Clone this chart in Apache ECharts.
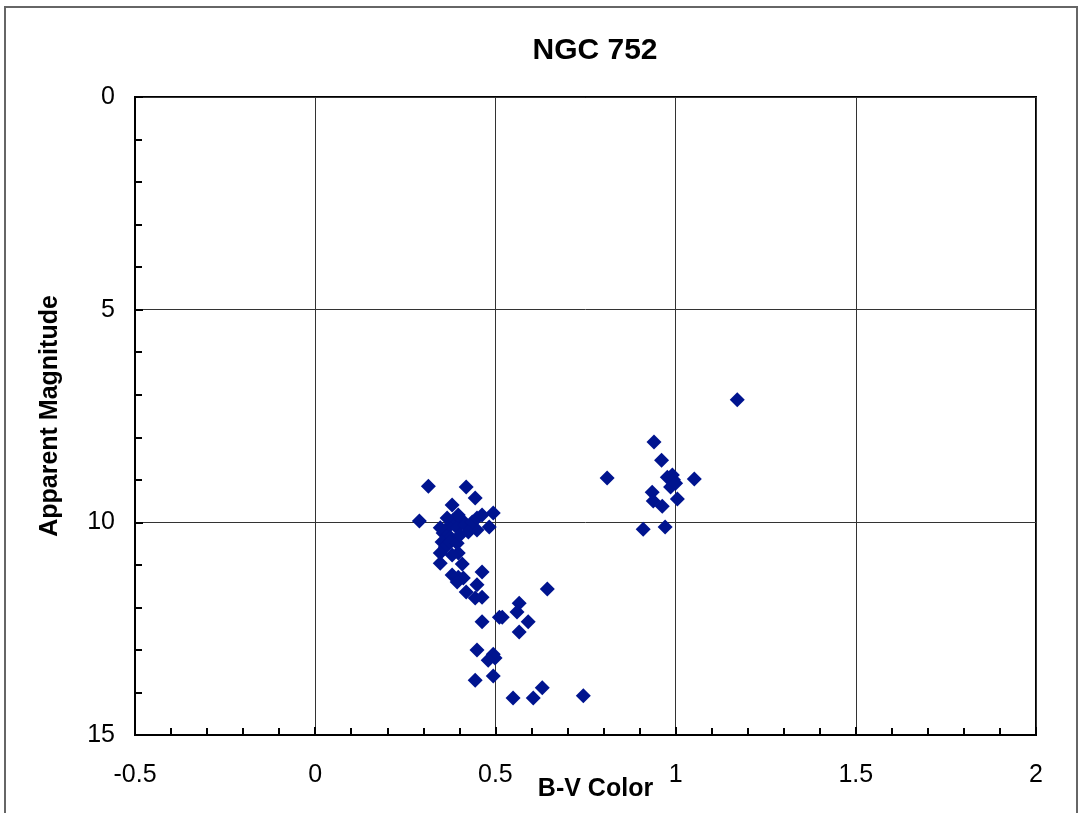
<!DOCTYPE html>
<html>
<head>
    <meta charset="utf-8">
    <title>NGC 752</title>
    <script src="https://cdn.jsdelivr.net/npm/echarts@6/dist/echarts.min.js"></script>
    <style>
        html, body { margin: 0; padding: 0; background: #fff; }
    </style>
</head>
<body>
    <div id="main" style="width: 1081px;height:813px;"></div>
    <script type="text/javascript">
        // B-V colour index of each star
        var bvColor = [
            1.171, 0.940, 0.961, 0.810, 1.052, 0.977, 0.991, 0.994, 0.986, 1.000,
            0.935, 0.938, 0.963, 1.005, 0.971, 0.910,
            0.314, 0.419, 0.444, 0.380, 0.289, 0.494, 0.483, 0.449,
            0.383, 0.408, 0.369, 0.394, 0.416, 0.436, 0.449, 0.463, 0.425, 0.355,
            0.375, 0.352, 0.361, 0.347, 0.375, 0.394, 0.397, 0.380, 0.366, 0.397,
            0.347, 0.402,
            0.347, 0.408, 0.463, 0.380, 0.397, 0.411, 0.394, 0.449, 0.419, 0.444,
            0.463, 0.644, 0.566, 0.560, 0.591, 0.511, 0.519, 0.463, 0.566, 0.449,
            0.494, 0.499, 0.480, 0.444, 0.494, 0.630, 0.549, 0.605, 0.744
        ];
        // apparent V magnitude of each star
        var vMag = [
            7.12, 8.11, 8.54, 8.96, 8.98, 8.94, 8.89, 9.00, 9.17, 9.08,
            9.29, 9.50, 9.62, 9.45, 10.11, 10.16,
            9.15, 9.17, 9.43, 9.59, 9.97, 9.78, 10.11, 10.18,
            9.95, 9.95, 10.11, 10.13, 10.06, 9.99, 9.90, 9.83, 10.23, 10.25,
            10.35, 10.46, 10.58, 10.72, 10.46, 10.49, 10.72, 10.77, 9.90, 9.83,
            10.13, 10.30,
            10.96, 10.98, 11.17, 11.24, 11.29, 11.31, 11.40, 11.47, 11.64, 11.78,
            11.76, 11.57, 11.90, 12.11, 12.34, 12.23, 12.23, 12.34, 12.58, 13.00,
            13.10, 13.19, 13.24, 13.71, 13.61, 13.89, 14.13, 14.13, 14.08
        ];

        var stars = [];
        for (var i = 0; i < bvColor.length; i++) {
            stars.push([bvColor[i], vMag[i]]);
        }

        var myChart = echarts.init(document.getElementById('main'));

        var font = 'Arial, "Liberation Sans", sans-serif';

        var option = {
            animation: false,
            backgroundColor: '#fff',
            title: {
                text: 'NGC 752',
                left: 590,
                top: 31,
                textAlign: 'center',
                textStyle: { fontFamily: font, fontSize: 30, fontWeight: 'bold', color: '#000' }
            },
            graphic: [{
                type: 'rect',
                shape: { x: 5, y: 7, width: 1072, height: 840 },
                style: { fill: 'none', stroke: '#666', lineWidth: 2 },
                silent: true
            }],
            grid: {
                left: 135,
                right: 45,
                top: 97,
                bottom: 78,
                outerBoundsMode: 'none',
                containLabel: false,
                show: true,
                borderColor: '#000',
                borderWidth: 2
            },
            xAxis: {
                type: 'value',
                min: -0.5,
                max: 2,
                interval: 0.5,
                name: 'B-V Color',
                nameLocation: 'middle',
                nameGap: 42,
                nameMoveOverlap: false,
                nameTextStyle: { fontFamily: font, fontSize: 25, fontWeight: 'bold', color: '#000', padding: [0, 0, 0, 20] },
                axisLine: { show: true, onZero: false, lineStyle: { color: '#000', width: 2 } },
                axisTick: { show: true, inside: true, length: 8, lineStyle: { color: '#000', width: 2 } },
                minorTick: { show: true, splitNumber: 5, length: 7, lineStyle: { color: '#000', width: 2 } },
                axisLabel: { fontFamily: font, fontSize: 25, color: '#000', margin: 28 },
                splitLine: { show: true, lineStyle: { color: '#333', width: 1 } }
            },
            yAxis: {
                type: 'value',
                inverse: true,
                min: 0,
                max: 15,
                interval: 5,
                name: 'Apparent Magnitude',
                nameLocation: 'middle',
                nameGap: 72,
                nameMoveOverlap: false,
                nameTextStyle: { fontFamily: font, fontSize: 25, fontWeight: 'bold', color: '#000' },
                axisLine: { show: true, onZero: false, lineStyle: { color: '#000', width: 2 } },
                axisTick: { show: true, inside: true, length: 8, lineStyle: { color: '#000', width: 2 } },
                minorTick: { show: true, splitNumber: 5, length: 7, lineStyle: { color: '#000', width: 2 } },
                axisLabel: { fontFamily: font, fontSize: 25, color: '#000', margin: 20 },
                splitLine: { show: true, lineStyle: { color: '#333', width: 1 } }
            },
            series: [{
                type: 'scatter',
                data: stars,
                symbol: 'diamond',
                symbolSize: 15,
                itemStyle: { color: '#00148F', opacity: 1 }
            }]
        };

        myChart.setOption(option);

        window.addEventListener("resize", function(){
            myChart.resize();
        })
    </script>
</body>
</html>
